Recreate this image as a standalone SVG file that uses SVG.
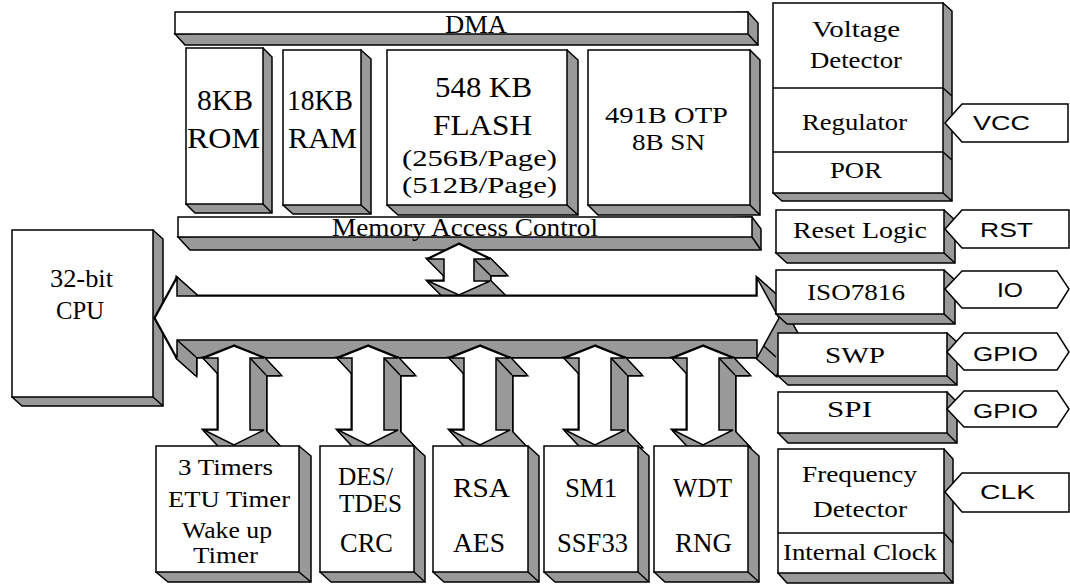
<svg xmlns="http://www.w3.org/2000/svg" xmlns:xlink="http://www.w3.org/1999/xlink" width="1070" height="584" viewBox="0 0 1070 584">
<style>
.g{fill:#999;stroke:#000;stroke-width:1.5;stroke-linejoin:miter}
.f{fill:#fff;stroke:#000;stroke-width:1.5}
.ln{fill:none;stroke:#000;stroke-width:1.5}
.exo{fill:#999;stroke:#000;stroke-width:3;stroke-linejoin:miter}
.exi{fill:#999;stroke:none}
.t{font-family:"Liberation Serif",serif;fill:#000}
.s{font-family:"Liberation Sans",sans-serif;fill:#000}
</style>
<defs>
<g id="vx">
<polygon points="16,17 46,29 32,29 32,101 46,101 16,116 -14,101 0,101 0,29 -14,29"/>
<polygon points="0,0 30,12 46,29 16,17"/>
<polygon points="30,12 16,12 32,29 46,29"/>
<polygon points="16,12 16,84 32,101 32,29"/>
<polygon points="16,84 30,84 46,101 32,101"/>
<polygon points="30,84 0,99 16,116 46,101"/>
<polygon points="0,99 -30,84 -14,101 16,116"/>
<polygon points="-30,84 -16,84 0,101 -14,101"/>
<polygon points="-16,84 -16,12 0,29 0,101"/>
<polygon points="-16,12 -30,12 -14,29 0,29"/>
<polygon points="-30,12 0,0 16,17 -14,29"/>
</g>
<polygon id="vf" points="0,0 30,12 16,12 16,84 30,84 0,99 -30,84 -16,84 -16,12 -30,12"/>
<g id="mx">
<polygon points="16,16 47,31 31,31 31,53 47,53 16,67 -15,53 1,53 1,31 -15,31"/>
<polygon points="0,0 31,15 47,31 16,16"/>
<polygon points="31,15 15,15 31,31 47,31"/>
<polygon points="15,15 15,37 31,53 31,31"/>
<polygon points="15,37 31,37 47,53 31,53"/>
<polygon points="31,37 0,51 16,67 47,53"/>
<polygon points="0,51 -31,37 -15,53 16,67"/>
<polygon points="-31,37 -15,37 1,53 -15,53"/>
<polygon points="-15,37 -15,15 1,31 1,53"/>
<polygon points="-15,15 -31,15 -15,31 1,31"/>
<polygon points="-31,15 0,0 16,16 -15,31"/>
</g>
<polygon id="mf" points="0,0 31,15 15,15 15,37 31,37 0,51 -31,37 -15,37 -15,15 -31,15"/>
<g id="bx">
<polygon points="174,335 196,295 196,313 776,313 776,295 798,335 776,375 776,357 196,357 196,375"/>
<polygon points="155,318 177,278 196,295 174,335"/>
<polygon points="177,278 177,296 196,313 196,295"/>
<polygon points="177,296 757,296 776,313 196,313"/>
<polygon points="757,296 757,278 776,295 776,313"/>
<polygon points="757,278 779,318 798,335 776,295"/>
<polygon points="779,318 757,358 776,375 798,335"/>
<polygon points="757,358 757,340 776,357 776,375"/>
<polygon points="757,340 177,340 196,357 776,357"/>
<polygon points="177,340 177,358 196,375 196,357"/>
<polygon points="177,358 155,318 174,335 196,375"/>
</g>
</defs>

<!-- DMA bar -->
<g id="dma">
<polygon class="g" points="748,12 758,23 758,45 185,45 175,34"/>
<line class="ln" x1="748" y1="34" x2="758" y2="45"/>
<rect class="f" x="175" y="12" width="573" height="22"/>
<text class="t" x="445" y="33" font-size="26" textLength="62" lengthAdjust="spacingAndGlyphs">DMA</text>
</g>

<!-- Memory boxes -->
<g id="rom">
<polygon class="g" points="263,48 272,57 272,213 195,213 186,204"/>
<line class="ln" x1="263" y1="204" x2="272" y2="213"/>
<rect class="f" x="186" y="48" width="77" height="156"/>
<text class="t" x="197" y="110" font-size="30" textLength="56" lengthAdjust="spacingAndGlyphs">8KB</text>
<text class="t" x="187" y="148" font-size="30" textLength="73" lengthAdjust="spacingAndGlyphs">ROM</text>
</g>
<g id="ram">
<polygon class="g" points="361,50 371,59 371,214 293,214 283,205"/>
<line class="ln" x1="361" y1="205" x2="371" y2="214"/>
<rect class="f" x="283" y="50" width="78" height="155"/>
<text class="t" x="287" y="110" font-size="30" textLength="66" lengthAdjust="spacingAndGlyphs">18KB</text>
<text class="t" x="288" y="148" font-size="30" textLength="69" lengthAdjust="spacingAndGlyphs">RAM</text>
</g>
<g id="flash">
<polygon class="g" points="567,50 578,60 578,215 398,215 387,205"/>
<line class="ln" x1="567" y1="205" x2="578" y2="215"/>
<rect class="f" x="387" y="50" width="180" height="155"/>
<text class="t" x="435" y="97" font-size="29" textLength="97" lengthAdjust="spacingAndGlyphs">548 KB</text>
<text class="t" x="433" y="135" font-size="29" textLength="99" lengthAdjust="spacingAndGlyphs">FLASH</text>
<text class="t" x="402" y="166" font-size="23" textLength="155" lengthAdjust="spacingAndGlyphs">(256B/Page)</text>
<text class="t" x="402" y="193" font-size="23" textLength="155" lengthAdjust="spacingAndGlyphs">(512B/Page)</text>
</g>
<g id="otp">
<polygon class="g" points="750,50 760,60 760,215 598,215 588,205"/>
<line class="ln" x1="750" y1="205" x2="760" y2="215"/>
<rect class="f" x="588" y="50" width="162" height="155"/>
<text class="t" x="605" y="123" font-size="23" textLength="123" lengthAdjust="spacingAndGlyphs">491B OTP</text>
<text class="t" x="632" y="150" font-size="23" textLength="73" lengthAdjust="spacingAndGlyphs">8B SN</text>
</g>

<!-- Memory Access Control -->
<g id="mac">
<polygon class="g" points="752,217 761,229 761,250 190,250 178,237"/>
<line class="ln" x1="752" y1="237" x2="761" y2="250"/>
<rect class="f" x="178" y="217" width="574" height="20"/>
<text class="t" x="332" y="236" font-size="26" textLength="266" lengthAdjust="spacingAndGlyphs">Memory Access Control</text>
</g>

<!-- CPU -->
<g id="cpu">
<polygon class="g" points="153,230 163,239 163,406 22,406 12,397"/>
<line class="ln" x1="153" y1="397" x2="163" y2="406"/>
<rect class="f" x="12" y="230" width="141" height="167"/>
<text class="t" x="50" y="287" font-size="26" textLength="63" lengthAdjust="spacingAndGlyphs">32-bit</text>
<text class="t" x="56" y="319" font-size="26" textLength="48" lengthAdjust="spacingAndGlyphs">CPU</text>
</g>

<!-- Connectors -->
<g id="connectors">
<g id="mem-arrow" transform="translate(459,244)">
<use xlink:href="#mx" href="#mx" class="exo"/>
<use xlink:href="#mx" href="#mx" class="exi"/>
<line class="ln" x1="15" y1="15" x2="31" y2="31"/>
<use xlink:href="#mf" href="#mf" class="f"/>
</g>
<g id="bus">
<use xlink:href="#bx" href="#bx" class="exo"/>
<use xlink:href="#bx" href="#bx" class="exi"/>
<line class="ln" x1="177" y1="340" x2="196" y2="357"/>
<line class="ln" x1="757" y1="340" x2="776" y2="357"/>
<polygon class="f" points="155,318 177,278 177,296 757,296 757,278 779,318 757,358 757,340 177,340 177,358"/>
</g>
<g id="arrow-timers" transform="translate(234,346)">
<use xlink:href="#vx" href="#vx" class="exo"/><use xlink:href="#vx" href="#vx" class="exi"/>
<line class="ln" x1="16" y1="12" x2="32" y2="29"/>
<use xlink:href="#vf" href="#vf" class="f"/>
</g>
<g id="arrow-des" transform="translate(368,346)">
<use xlink:href="#vx" href="#vx" class="exo"/><use xlink:href="#vx" href="#vx" class="exi"/>
<line class="ln" x1="16" y1="12" x2="32" y2="29"/>
<use xlink:href="#vf" href="#vf" class="f"/>
</g>
<g id="arrow-rsa" transform="translate(480,346)">
<use xlink:href="#vx" href="#vx" class="exo"/><use xlink:href="#vx" href="#vx" class="exi"/>
<line class="ln" x1="16" y1="12" x2="32" y2="29"/>
<use xlink:href="#vf" href="#vf" class="f"/>
</g>
<g id="arrow-sm1" transform="translate(595,346)">
<use xlink:href="#vx" href="#vx" class="exo"/><use xlink:href="#vx" href="#vx" class="exi"/>
<line class="ln" x1="16" y1="12" x2="32" y2="29"/>
<use xlink:href="#vf" href="#vf" class="f"/>
</g>
<g id="arrow-wdt" transform="translate(703,346)">
<use xlink:href="#vx" href="#vx" class="exo"/><use xlink:href="#vx" href="#vx" class="exi"/>
<line class="ln" x1="16" y1="12" x2="32" y2="29"/>
<use xlink:href="#vf" href="#vf" class="f"/>
</g>
</g>

<!-- Bottom peripheral boxes -->
<g id="timers">
<polygon class="g" points="299,446 311,456 311,582 168,582 156,572"/>
<line class="ln" x1="299" y1="572" x2="311" y2="582"/>
<rect class="f" x="156" y="446" width="143" height="126"/>
<text class="t" x="178" y="475" font-size="24" textLength="95" lengthAdjust="spacingAndGlyphs">3 Timers</text>
<text class="t" x="168" y="507" font-size="24" textLength="122" lengthAdjust="spacingAndGlyphs">ETU Timer</text>
<text class="t" x="182" y="538" font-size="23" textLength="90" lengthAdjust="spacingAndGlyphs">Wake up</text>
<text class="t" x="193" y="563" font-size="23" textLength="65" lengthAdjust="spacingAndGlyphs">Timer</text>
</g>
<g id="des">
<polygon class="g" points="414,446 425,456 425,582 331,582 320,572"/>
<line class="ln" x1="414" y1="572" x2="425" y2="582"/>
<rect class="f" x="320" y="446" width="94" height="126"/>
<text class="t" x="338" y="485" font-size="26" textLength="55" lengthAdjust="spacingAndGlyphs">DES/</text>
<text class="t" x="339" y="512" font-size="26" textLength="63" lengthAdjust="spacingAndGlyphs">TDES</text>
<text class="t" x="340" y="552" font-size="27" textLength="53" lengthAdjust="spacingAndGlyphs">CRC</text>
</g>
<g id="rsa">
<polygon class="g" points="528,446 539,456 539,582 444,582 433,572"/>
<line class="ln" x1="528" y1="572" x2="539" y2="582"/>
<rect class="f" x="433" y="446" width="95" height="126"/>
<text class="t" x="453" y="497" font-size="28" textLength="57" lengthAdjust="spacingAndGlyphs">RSA</text>
<text class="t" x="453" y="552" font-size="28" textLength="52" lengthAdjust="spacingAndGlyphs">AES</text>
</g>
<g id="sm1">
<polygon class="g" points="638,446 649,456 649,582 555,582 544,572"/>
<line class="ln" x1="638" y1="572" x2="649" y2="582"/>
<rect class="f" x="544" y="446" width="94" height="126"/>
<text class="t" x="565" y="497" font-size="28" textLength="52" lengthAdjust="spacingAndGlyphs">SM1</text>
<text class="t" x="557" y="552" font-size="28" textLength="71" lengthAdjust="spacingAndGlyphs">SSF33</text>
</g>
<g id="wdt">
<polygon class="g" points="748,446 759,456 759,582 665,582 654,572"/>
<line class="ln" x1="748" y1="572" x2="759" y2="582"/>
<rect class="f" x="654" y="446" width="94" height="126"/>
<text class="t" x="673" y="497" font-size="28" textLength="59" lengthAdjust="spacingAndGlyphs">WDT</text>
<text class="t" x="675" y="552" font-size="28" textLength="57" lengthAdjust="spacingAndGlyphs">RNG</text>
</g>

<!-- Right column -->
<g id="power">
<polygon class="g" points="943,3 952,11 952,201 782,201 773,193"/>
<line class="ln" x1="943" y1="193" x2="952" y2="201"/>
<line class="ln" x1="943" y1="88" x2="952" y2="96"/>
<line class="ln" x1="943" y1="152" x2="952" y2="160"/>
<rect class="f" x="773" y="3" width="170" height="190"/>
<line class="ln" x1="773" y1="88" x2="943" y2="88"/>
<line class="ln" x1="773" y1="152" x2="943" y2="152"/>
<text class="t" x="812" y="37" font-size="24" textLength="88" lengthAdjust="spacingAndGlyphs">Voltage</text>
<text class="t" x="810" y="68" font-size="24" textLength="92" lengthAdjust="spacingAndGlyphs">Detector</text>
<text class="t" x="802" y="130" font-size="24" textLength="105" lengthAdjust="spacingAndGlyphs">Regulator</text>
<text class="t" x="830" y="178" font-size="24" textLength="52" lengthAdjust="spacingAndGlyphs">POR</text>
</g>
<g id="reset">
<polygon class="g" points="944,210 955,220 955,263 787,263 776,253"/>
<line class="ln" x1="944" y1="253" x2="955" y2="263"/>
<rect class="f" x="776" y="210" width="168" height="43"/>
<text class="t" x="793" y="238" font-size="24" textLength="134" lengthAdjust="spacingAndGlyphs">Reset Logic</text>
</g>
<g id="iso">
<polygon class="g" points="944,270 955,280 955,324 787,324 776,314"/>
<line class="ln" x1="944" y1="314" x2="955" y2="324"/>
<rect class="f" x="776" y="270" width="168" height="44"/>
<text class="t" x="807" y="300" font-size="24" textLength="98" lengthAdjust="spacingAndGlyphs">ISO7816</text>
</g>
<g id="swp">
<polygon class="g" points="947,333 957,342 957,385 788,385 778,376"/>
<line class="ln" x1="947" y1="376" x2="957" y2="385"/>
<rect class="f" x="778" y="333" width="169" height="43"/>
<text class="t" x="825" y="363" font-size="24" textLength="60" lengthAdjust="spacingAndGlyphs">SWP</text>
</g>
<g id="spi">
<polygon class="g" points="947,392 957,402 957,443 788,443 778,433"/>
<line class="ln" x1="947" y1="433" x2="957" y2="443"/>
<rect class="f" x="778" y="392" width="169" height="41"/>
<text class="t" x="827" y="417" font-size="24" textLength="45" lengthAdjust="spacingAndGlyphs">SPI</text>
</g>
<g id="clock">
<polygon class="g" points="944,449 953,459 953,583 787,583 778,573"/>
<line class="ln" x1="944" y1="573" x2="953" y2="583"/>
<line class="ln" x1="944" y1="533" x2="953" y2="543"/>
<rect class="f" x="778" y="449" width="166" height="124"/>
<line class="ln" x1="778" y1="533" x2="944" y2="533"/>
<text class="t" x="802" y="482" font-size="24" textLength="115" lengthAdjust="spacingAndGlyphs">Frequency</text>
<text class="t" x="813" y="517" font-size="24" textLength="94" lengthAdjust="spacingAndGlyphs">Detector</text>
<text class="t" x="783" y="560" font-size="24" textLength="154" lengthAdjust="spacingAndGlyphs">Internal Clock</text>
</g>

<!-- Pin tags -->
<g id="pin-vcc">
<polygon class="f" points="945,123 962,104 1068,104 1068,142 962,142"/>
<text class="s" x="973" y="130" font-size="21" textLength="57" lengthAdjust="spacingAndGlyphs">VCC</text>
</g>
<g id="pin-rst">
<polygon class="f" points="945,229 962,210 1069,210 1069,248 962,248"/>
<text class="s" x="980" y="237" font-size="21" textLength="53" lengthAdjust="spacingAndGlyphs">RST</text>
</g>
<g id="pin-io">
<polygon class="f" points="945,289 962,271 1057,271 1069,289 1057,308 962,308"/>
<text class="s" x="997" y="297" font-size="21" textLength="26" lengthAdjust="spacingAndGlyphs">IO</text>
</g>
<g id="pin-gpio1">
<polygon class="f" points="947,352 964,333 1057,333 1069,352 1057,370 964,370"/>
<text class="s" x="973" y="361" font-size="21" textLength="65" lengthAdjust="spacingAndGlyphs">GPIO</text>
</g>
<g id="pin-gpio2">
<polygon class="f" points="947,409 964,391 1057,391 1069,409 1057,427 964,427"/>
<text class="s" x="973" y="418" font-size="21" textLength="65" lengthAdjust="spacingAndGlyphs">GPIO</text>
</g>
<g id="pin-clk">
<polygon class="f" points="945,492 962,473 1069,473 1069,512 962,512"/>
<text class="s" x="980" y="499" font-size="21" textLength="55" lengthAdjust="spacingAndGlyphs">CLK</text>
</g>
</svg>
